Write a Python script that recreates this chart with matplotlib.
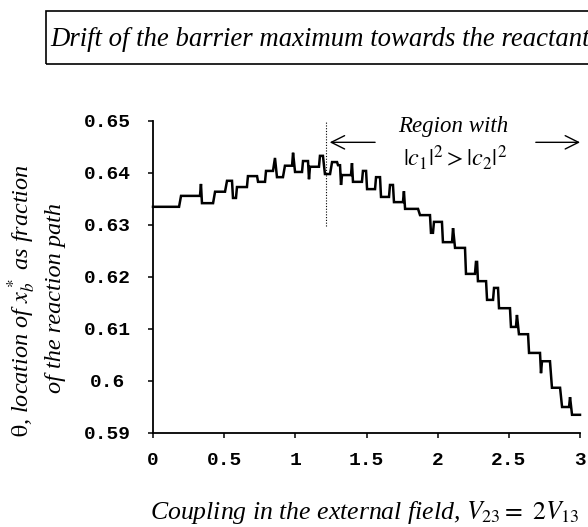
import numpy as np
import matplotlib
matplotlib.use('Agg')
import matplotlib.pyplot as plt
from matplotlib.patches import Rectangle

plt.rcParams['mathtext.fontset'] = 'stix'
serif = 'Liberation Serif'
mono = 'Liberation Mono'

# vertices of the stepped curve
coupling = [0, 0.183, 0.197, 0.330, 0.337, 0.344, 0.422, 0.436, 0.506, 0.520,
            0.555, 0.562, 0.583, 0.590, 0.660, 0.667, 0.731, 0.738, 0.787, 0.794,
            0.843, 0.857, 0.871, 0.913, 0.927, 0.977, 0.984, 0.998, 1.047, 1.054,
            1.089, 1.096, 1.103, 1.166, 1.173, 1.194, 1.208, 1.244, 1.258, 1.293,
            1.300, 1.314, 1.321, 1.328, 1.391, 1.398, 1.405, 1.468, 1.475, 1.497,
            1.504, 1.560, 1.567, 1.595, 1.602, 1.658, 1.665, 1.686, 1.693, 1.756,
            1.763, 1.771, 1.862, 1.876, 1.946, 1.953, 1.967, 1.974, 2.030, 2.037,
            2.101, 2.108, 2.122, 2.192, 2.199, 2.262, 2.269, 2.277, 2.283, 2.340,
            2.347, 2.389, 2.396, 2.424, 2.431, 2.508, 2.515, 2.550, 2.557, 2.571,
            2.635, 2.642, 2.719, 2.726, 2.733, 2.789, 2.803, 2.860, 2.874, 2.923,
            2.930, 2.944, 3.0]
theta = [0.6335, 0.6335, 0.6356, 0.6356, 0.6379, 0.6342, 0.6342, 0.6364, 0.6364, 0.6385,
         0.6385, 0.6352, 0.6352, 0.6373, 0.6373, 0.6394, 0.6394, 0.6383, 0.6383, 0.6404,
         0.6404, 0.6429, 0.6392, 0.6392, 0.6414, 0.6414, 0.6439, 0.6402, 0.6402, 0.6423,
         0.6423, 0.6388, 0.6412, 0.6412, 0.6433, 0.6433, 0.6398, 0.6398, 0.6421, 0.6421,
         0.6415, 0.6415, 0.6377, 0.6396, 0.6396, 0.6419, 0.6383, 0.6383, 0.6404, 0.6404,
         0.6369, 0.6369, 0.6392, 0.6392, 0.6354, 0.6354, 0.6377, 0.6377, 0.6344, 0.6344,
         0.6365, 0.6331, 0.6331, 0.6319, 0.6319, 0.6285, 0.6285, 0.6306, 0.6306, 0.6267,
         0.6267, 0.6294, 0.6256, 0.6256, 0.6206, 0.6206, 0.6229, 0.6229, 0.6192, 0.6192,
         0.6156, 0.6156, 0.6179, 0.6179, 0.6140, 0.6140, 0.6104, 0.6104, 0.6127, 0.6090,
         0.6090, 0.6054, 0.6054, 0.6015, 0.6038, 0.6038, 0.5987, 0.5987, 0.5950, 0.5950,
         0.5969, 0.5935, 0.5935]

xticks = [0, 0.5, 1, 1.5, 2, 2.5, 3]
xticklabels = ['0', '0.5', '1', '1.5', '2', '2.5', '3']
yticks = [0.59, 0.60, 0.61, 0.62, 0.63, 0.64, 0.65]
yticklabels = ['0.59', '0.6', '0.61', '0.62', '0.63', '0.64', '0.65']

fig = plt.figure(figsize=(5.88, 5.27), dpi=100)
ax = fig.add_axes([153/588, 1-433/527, (580-153)/588, (433-121)/527])

ax.plot(coupling, theta, color='black', lw=1.8, solid_joinstyle='miter', clip_on=False)

ax.set_xlim(0, 3)
ax.set_ylim(0.59, 0.65)
ax.set_xticks(xticks)
ax.set_xticklabels(xticklabels, family=mono, weight='bold', fontsize=14)
ax.set_yticks(yticks)
ax.set_yticklabels(yticklabels, family=mono, weight='bold', fontsize=14)
for lab in ax.get_yticklabels():
    lab.set_horizontalalignment('center')
ax.tick_params(axis='x', direction='out', length=3.5, width=1.1, pad=10)
ax.tick_params(axis='y', direction='out', length=3.5, width=1.1, pad=29)
ax.spines['top'].set_visible(False)
ax.spines['right'].set_visible(False)
ax.spines['left'].set_linewidth(1.3)
ax.spines['bottom'].set_linewidth(1.3)

# region annotation
ax.plot([1.216, 1.216], [0.6298, 0.6499], color='black', lw=0.8, ls=(0, (1, 1.5)))
ax.annotate('', xy=(1.222, 0.6459), xytext=(1.58, 0.6459),
            arrowprops=dict(arrowstyle='->', lw=1.0, color='black', mutation_scale=24))
ax.annotate('', xy=(3.02, 0.6459), xytext=(2.67, 0.6459), annotation_clip=False,
            arrowprops=dict(arrowstyle='->', lw=1.0, color='black', mutation_scale=24))
ax.text(2.11, 0.6489, 'Region with', family=serif, style='italic', fontsize=16.5,
        ha='center', va='center')
ax.text(2.12, 0.6429, r'$|c_1|^2 > |c_2|^2$', fontsize=17.5, ha='center', va='center')

# title box
fig.patches.append(Rectangle((46/588, 1-64/527), 560/588, 53/527, transform=fig.transFigure,
                             fill=False, edgecolor='black', lw=1.2))
fig.text(50/588, 1-39/527, 'Drift of the barrier maximum towards the reactant',
         family=serif, style='italic', fontsize=19.3, ha='left', va='center')

fig.text(22/588, 1-301/527, r'$\mathrm{\theta}$, location of $x^*_b$ as fraction',
         family=serif, style='italic', fontsize=17.5, rotation=90, ha='center', va='center')
fig.text(55/588, 1-298/527, 'of the reaction path',
         family=serif, style='italic', fontsize=17.5, rotation=90, ha='center', va='center')
fig.text(365/588, 1-513/527, r'Coupling in the external field, $V_{23}\mathrm{=\ 2}V_{13}$',
         family=serif, style='italic', fontsize=18.5, ha='center', va='center')

fig.savefig('out.png', dpi=100)
